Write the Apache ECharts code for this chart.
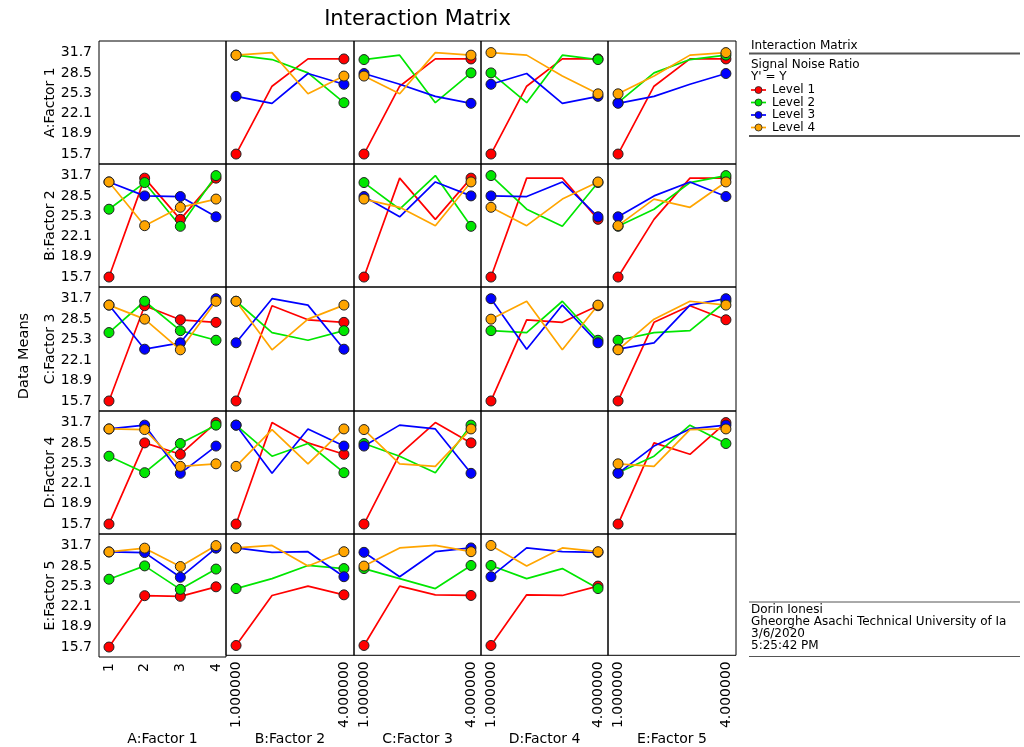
<!DOCTYPE html>
<html><head><meta charset="utf-8">
<script src="https://cdn.jsdelivr.net/npm/echarts@6/dist/echarts.min.js"></script>
<style>html,body{margin:0;padding:0;background:#fff}#main{width:1024px;height:747px}</style>
</head><body><div id="main"></div>
<script>
// ---- data ----
const factorNames = ['A:Factor 1', 'B:Factor 2', 'C:Factor 3', 'D:Factor 4', 'E:Factor 5'];
const levelNames = ['Level 1', 'Level 2', 'Level 3', 'Level 4'];
const yTickLabels = [15.7, 18.9, 22.1, 25.3, 28.5, 31.7];
const xTicksA = [1, 2, 3, 4];
const xTicksOther = [1, 4];
// L16 (4^5) design, one entry per run
const factorA = [1,1,1,1,2,2,2,2,3,3,3,3,4,4,4,4];
const factorB = [1,2,3,4,1,2,3,4,1,2,3,4,1,2,3,4];
const factorC = [1,2,3,4,2,1,4,3,3,4,1,2,4,3,2,1];
const factorD = [1,2,3,4,3,4,1,2,4,3,2,1,2,1,4,3];
const factorE = [1,2,3,4,4,3,2,1,2,1,4,3,3,4,1,2];
// signal noise ratio per run
const signalNoise = [15.7,26.4,30.7,30.7,31.3,30.6,28.5,23.8,24.8,23.7,28.4,26.7,31.3,31.7,25.2,28.0];

// ---- styling ----
const levelColors = ['#ff0000', '#00e600', '#0000ff', '#ffa500'];
const FONT = 'DejaVu Sans';
const design = [factorA, factorB, factorC, factorD, factorE];
const colEdges = [99, 226, 354, 481, 608, 736];
const rowEdges = [41, 164, 287, 411, 534, 657];

function meanAt(r, k, c, x) {
  const vals = [];
  for (let i = 0; i < signalNoise.length; i++) {
    if (design[r][i] === k && design[c][i] === x) vals.push(signalNoise[i]);
  }
  return vals.reduce((a, b) => a + b, 0) / vals.length;
}

const grids = [], xAxes = [], yAxes = [], series = [];
let gi = 0;
for (let r = 0; r < 5; r++) {
  for (let c = 0; c < 5; c++) {
    grids.push({
      left: colEdges[c], top: rowEdges[r],
      width: colEdges[c + 1] - colEdges[c], height: rowEdges[r + 1] - rowEdges[r],
      show: true, borderColor: '#000', borderWidth: 1, backgroundColor: 'transparent'
    });
    xAxes.push({
      type: 'value', gridIndex: gi, min: 0.72, max: 4.28,
      axisLine: {show: false}, axisTick: {show: false}, splitLine: {show: false},
      axisLabel: {
        show: r === 4, customValues: c === 0 ? xTicksA : xTicksOther,
        formatter: v => c === 0 ? String(Math.round(v)) : Number(v).toFixed(6),
        rotate: 90, margin: 6, fontSize: 14, color: '#000', fontFamily: FONT
      },
      name: r === 4 ? factorNames[c] : '', nameLocation: 'middle', nameGap: 75,
      nameTextStyle: {fontSize: 14, color: '#000', fontFamily: FONT}
    });
    yAxes.push({
      type: 'value', gridIndex: gi, min: 14.13, max: 33.53,
      axisLine: {show: false}, axisTick: {show: false}, splitLine: {show: false},
      axisLabel: {
        show: c === 0, customValues: yTickLabels,
        formatter: v => Number(v).toFixed(1),
        margin: 7, fontSize: 14, color: '#000', fontFamily: FONT
      },
      name: c === 0 ? factorNames[r] : '', nameLocation: 'middle', nameGap: 42,
      nameTextStyle: {fontSize: 14, color: '#000', fontFamily: FONT}
    });
    if (r !== c) {
      for (let k = 0; k < 4; k++) {
        const data = [];
        for (let x = 1; x <= 4; x++) {
          data.push({
            value: [x, +meanAt(r, k + 1, c, x).toFixed(2)],
            symbol: (c === 0 || x === 1 || x === 4) ? 'circle' : 'none'
          });
        }
        series.push({
          type: 'line', name: levelNames[k], xAxisIndex: gi, yAxisIndex: gi,
          data, symbolSize: 10, showAllSymbol: true, silent: true,
          lineStyle: {width: 1.7, color: levelColors[k]},
          itemStyle: {color: levelColors[k], borderColor: '#222', borderWidth: 1}
        });
      }
    }
    gi++;
  }
}

const graphics = [];
function txt(x, y, s, size, extra) {
  graphics.push(Object.assign({
    type: 'text', x, y,
    style: {text: s, fontSize: size, fontFamily: FONT, fill: '#000', textAlign: 'left', textVerticalAlign: 'middle'}
  }, extra || {}));
}
function hline(x1, x2, y, w) {
  graphics.push({type: 'line', shape: {x1, y1: y, x2, y2: y}, style: {stroke: '#555', lineWidth: w}});
}
// title
graphics.push({type: 'text', x: 417.5, y: 20, style: {text: 'Interaction Matrix', fontSize: 21, fontFamily: FONT, fill: '#000', textAlign: 'center', textVerticalAlign: 'middle'}});
// y title
graphics.push({type: 'text', x: 24, y: 356, rotation: Math.PI / 2, style: {text: 'Data Means', fontSize: 14.5, fontFamily: FONT, fill: '#000', textAlign: 'center', textVerticalAlign: 'middle'}});
// side panel
txt(751, 46, 'Interaction Matrix', 12);
hline(749, 1020, 53.5, 2);
txt(751, 64.5, 'Signal Noise Ratio', 12);
txt(751, 77, "Y' = Y", 12);
const legendY = [90, 102.5, 115, 127.5];
for (let k = 0; k < 4; k++) {
  graphics.push({type: 'line', shape: {x1: 751, y1: legendY[k], x2: 766, y2: legendY[k]}, style: {stroke: levelColors[k], lineWidth: 1.7}});
  graphics.push({type: 'circle', shape: {cx: 758.5, cy: legendY[k], r: 3.5}, style: {fill: levelColors[k], stroke: '#222', lineWidth: 0.8}});
  txt(772, legendY[k], levelNames[k], 12);
}
hline(749, 1020, 136, 2);
hline(749, 1020, 602, 1);
txt(751, 610, 'Dorin Ionesi', 12);
txt(751, 622, 'Gheorghe Asachi Technical University of Ia', 12);
txt(751, 634, '3/6/2020', 12);
txt(751, 646, '5:25:42 PM', 12);
hline(749, 1020, 656.5, 1);

const chart = echarts.init(document.getElementById('main'), null, {renderer: 'canvas'});
chart.setOption({
  animation: false,
  backgroundColor: '#fff',
  grid: grids, xAxis: xAxes, yAxis: yAxes, series,
  graphic: graphics
});
</script>
</body></html>
